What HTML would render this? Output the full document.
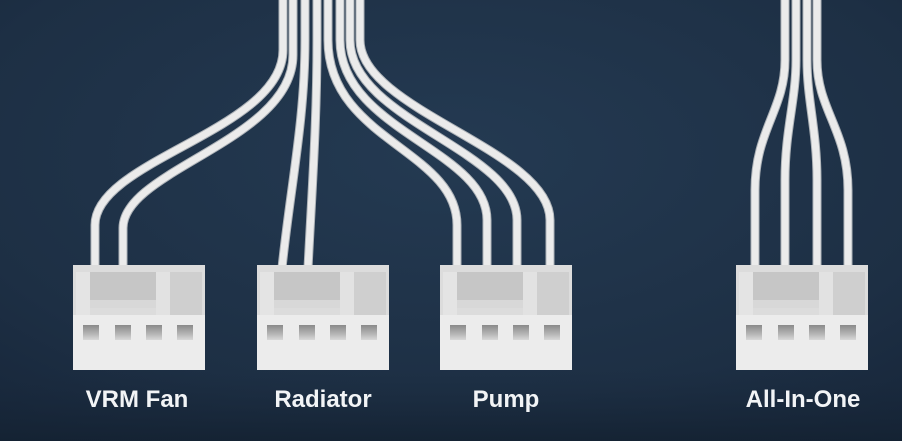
<!DOCTYPE html>
<html><head><meta charset="utf-8"><style>
html,body{margin:0;padding:0;}
body{width:902px;height:441px;overflow:hidden;background:#1e2f43;}
svg{display:block}
</style></head><body>
<svg width="902" height="441" viewBox="0 0 902 441" xmlns="http://www.w3.org/2000/svg">
<defs>
<radialGradient id="bg" cx="0.5" cy="0.35" r="0.8">
<stop offset="0" stop-color="#243a52"/>
<stop offset="0.7" stop-color="#1d2f44"/>
<stop offset="1" stop-color="#17263a"/>
</radialGradient>
<linearGradient id="floor" x1="0" y1="0" x2="0" y2="1">
<stop offset="0" stop-color="#1a2a3d" stop-opacity="0"/>
<stop offset="1" stop-color="#142232" stop-opacity="0.9"/>
</linearGradient>
<linearGradient id="hole" x1="0" y1="0" x2="0" y2="1">
<stop offset="0" stop-color="#8a8a8a"/>
<stop offset="0.6" stop-color="#b5b5b5"/>
<stop offset="1" stop-color="#d8d8d8"/>
</linearGradient>
<g id="conn">
<rect x="0" y="0" width="132" height="105" fill="#dcdcdc"/>
<rect x="3" y="7" width="14" height="43" fill="#e4e4e4"/>
<rect x="17" y="7" width="66" height="35" fill="#c6c6c6"/>
<rect x="17" y="35" width="66" height="8" fill="#d8d8d8"/>
<rect x="83" y="7" width="14" height="43" fill="#e2e2e2"/>
<rect x="97" y="7" width="32" height="43" fill="#cfcfcf"/>
<rect x="0" y="50" width="132" height="55" fill="#ececec"/>
<rect x="10" y="60" width="16" height="15" fill="url(#hole)"/>
<rect x="42" y="60" width="16" height="15" fill="url(#hole)"/>
<rect x="73" y="60" width="16" height="15" fill="url(#hole)"/>
<rect x="104" y="60" width="16" height="15" fill="url(#hole)"/>
</g>
</defs>
<rect width="902" height="441" fill="url(#bg)"/>
<rect y="370" width="902" height="71" fill="url(#floor)"/>
<g fill="none" stroke-linecap="butt">
<g stroke="#aeb3b8" stroke-width="9">
<path d="M95,268 L95,225 C95,160 283,130 283,50 L283,0"/>
<path d="M123,268 L123,228 C123,170 293,140 293,55 L293,0"/>
<path d="M282,268 C290,190 305,120 305,40 L305,0"/>
<path d="M308,268 C312,190 317,120 317,40 L317,0"/>
<path d="M457,268 L457,225 C457,150 328,140 328,40 L328,0"/>
<path d="M487,268 L487,220 C487,150 340,130 340,40 L340,0"/>
<path d="M517,268 L517,220 C517,150 350,120 350,40 L350,0"/>
<path d="M550,268 L550,220 C550,150 360,110 360,40 L360,0"/>
<path d="M755,268 L755,190 C755,130 785,110 785,60 L785,0"/>
<path d="M785,268 L785,180 C785,130 796,100 796,60 L796,0"/>
<path d="M817,268 L817,180 C817,130 807,100 807,60 L807,0"/>
<path d="M848,268 L848,190 C848,130 817,110 817,60 L817,0"/>
</g>
<g stroke="#ebebeb" stroke-width="7">
<path d="M95,268 L95,225 C95,160 283,130 283,50 L283,0"/>
<path d="M123,268 L123,228 C123,170 293,140 293,55 L293,0"/>
<path d="M282,268 C290,190 305,120 305,40 L305,0"/>
<path d="M308,268 C312,190 317,120 317,40 L317,0"/>
<path d="M457,268 L457,225 C457,150 328,140 328,40 L328,0"/>
<path d="M487,268 L487,220 C487,150 340,130 340,40 L340,0"/>
<path d="M517,268 L517,220 C517,150 350,120 350,40 L350,0"/>
<path d="M550,268 L550,220 C550,150 360,110 360,40 L360,0"/>
<path d="M755,268 L755,190 C755,130 785,110 785,60 L785,0"/>
<path d="M785,268 L785,180 C785,130 796,100 796,60 L796,0"/>
<path d="M817,268 L817,180 C817,130 807,100 807,60 L807,0"/>
<path d="M848,268 L848,190 C848,130 817,110 817,60 L817,0"/>
</g>
</g>
<use href="#conn" x="73" y="265"/>
<use href="#conn" x="257" y="265"/>
<use href="#conn" x="440" y="265"/>
<use href="#conn" x="736" y="265"/>
<g font-family="Liberation Sans, sans-serif" font-weight="bold" font-size="24" fill="#f2f4f6" text-anchor="middle">
<text x="137" y="407">VRM Fan</text>
<text x="323" y="407">Radiator</text>
<text x="506" y="407">Pump</text>
<text x="803" y="407">All-In-One</text>
</g>
</svg>
</body></html>
